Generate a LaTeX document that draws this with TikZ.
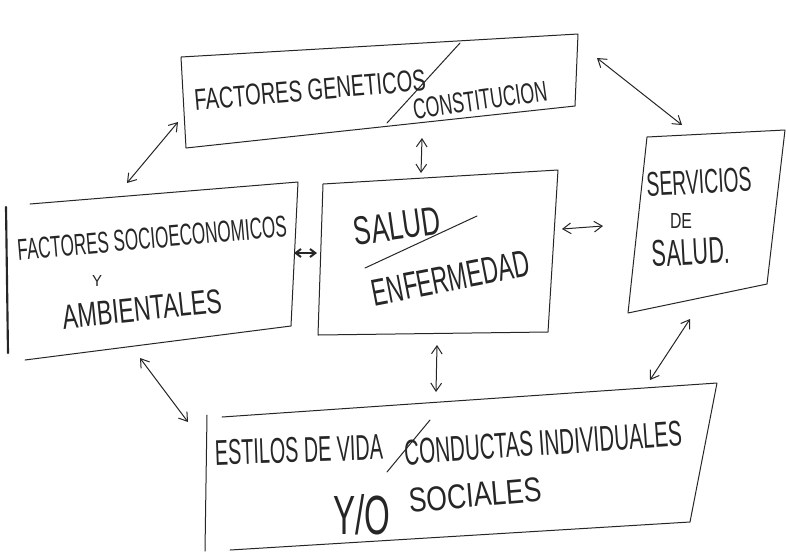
\documentclass[tikz,border=0pt]{standalone}
\usepackage{fontspec}
\setmainfont{Liberation Sans}
\usetikzlibrary{arrows.meta}
\newlength\hwW
\newlength\hwH
\newcommand\hw[3]{\setlength\hwW{#1pt}\setlength\hwW{0.75\hwW}\setlength\hwH{#2pt}\setlength\hwH{0.75\hwH}\resizebox{\hwW}{\hwH}{#3}}
\begin{document}
\begin{tikzpicture}[x=0.75pt,y=-0.75pt,
  ink/.style={draw=black!85, line width=0.75pt, line join=round, line cap=round},
  link/.style={ink, {Straight Barb[length=6pt,width=8pt]}-{Straight Barb[length=6pt,width=8pt]}},
  lbl/.style={inner sep=0pt, text=black!85}]
\useasboundingbox[fill=white] (0,0) rectangle (786,551);

% boxes
\draw[ink] (181,57) -- (578,34) -- (575,106) -- (186,148) -- cycle;
\draw[ink] (30,204) -- (298,182) -- (291,326) -- (25,360);
\draw[ink, line width=1.6pt] (6,207) -- (8,353);
\draw[ink] (323,184) -- (558,170) -- (548,332) -- (318,335) -- cycle;
\draw[ink] (647,137) -- (785,130) -- (767,284) -- (628,313) -- cycle;
\draw[ink] (222,417) -- (717,383) -- (690,522) -- (230,550);
\draw[ink] (207,415) -- (205,551);

% texts
\node[lbl, rotate=5] (gen) at (310,90) {\hw{232}{21}{FACTORES GENETICOS}};
\node[lbl, rotate=8] (con) at (480,100) {\hw{135}{20}{CONSTITUCION}};
\coordinate (g1) at (387,123); \coordinate (g2) at (460,43);
\draw[ink] (g1) -- (g2);

\node[lbl, rotate=5] (soc) at (152,238) {\hw{270}{21}{FACTORES SOCIOECONOMICOS}};
\node[lbl] (y1) at (97,281) {\hw{10}{11}{Y}};
\node[lbl, rotate=6] (amb) at (142,309) {\hw{160}{24}{AMBIENTALES}};

\node[lbl, rotate=8] (sal) at (397,226) {\hw{87}{28}{SALUD}};
\node[lbl, rotate=11] (enf) at (451,278) {\hw{160}{26}{ENFERMEDAD}};
\coordinate (s1) at (365,268); \coordinate (s2) at (477,216);
\draw[ink] (s1) -- (s2);

\node[lbl, rotate=3] (ser) at (699,182) {\hw{105}{24}{SERVICIOS}};
\node[lbl] (de) at (681,221) {\hw{22}{15}{DE}};
\node[lbl, rotate=3] (sal2) at (691,252) {\hw{78}{26}{SALUD.}};

\node[lbl, rotate=2] (est) at (299,450) {\hw{168}{25}{ESTILOS DE VIDA}};
\coordinate (e1) at (387,472); \coordinate (e2) at (430,420);
\draw[ink] (e1) -- (e2);
\node[lbl, rotate=4] (cond) at (543,443) {\hw{278}{25}{CONDUCTAS INDIVIDUALES}};
\node[lbl] (yo) at (362,515) {\hw{57}{40}{Y/O}};
\node[lbl, rotate=5] (socs) at (475,495) {\hw{133}{24}{SOCIALES}};

% connectors
\coordinate (a1s) at (127,183); \coordinate (a1e) at (178,122);
\coordinate (a2s) at (422,138); \coordinate (a2e) at (421,173);
\coordinate (a3s) at (294,253); \coordinate (a3e) at (317,253);
\coordinate (a4s) at (562,229); \coordinate (a4e) at (603,226);
\coordinate (a5s) at (597,58);  \coordinate (a5e) at (682,125);
\coordinate (a6s) at (690,319); \coordinate (a6e) at (650,380);
\coordinate (a7s) at (437,345); \coordinate (a7e) at (436,392);
\coordinate (a8s) at (140,358); \coordinate (a8e) at (188,422);
\draw[link] (a1s) -- (a1e);
\draw[link] (a2s) -- (a2e);
\draw[ink, line width=1.5pt, {Straight Barb[length=4pt,width=6pt]}-{Straight Barb[length=4pt,width=6pt]}] (a3s) -- (a3e);
\draw[link] (a4s) -- (a4e);
\draw[link] (a5s) -- (a5e);
\draw[link] (a6s) -- (a6e);
\draw[link] (a7s) -- (a7e);
\draw[link] (a8s) -- (a8e);
\end{tikzpicture}
\end{document}
